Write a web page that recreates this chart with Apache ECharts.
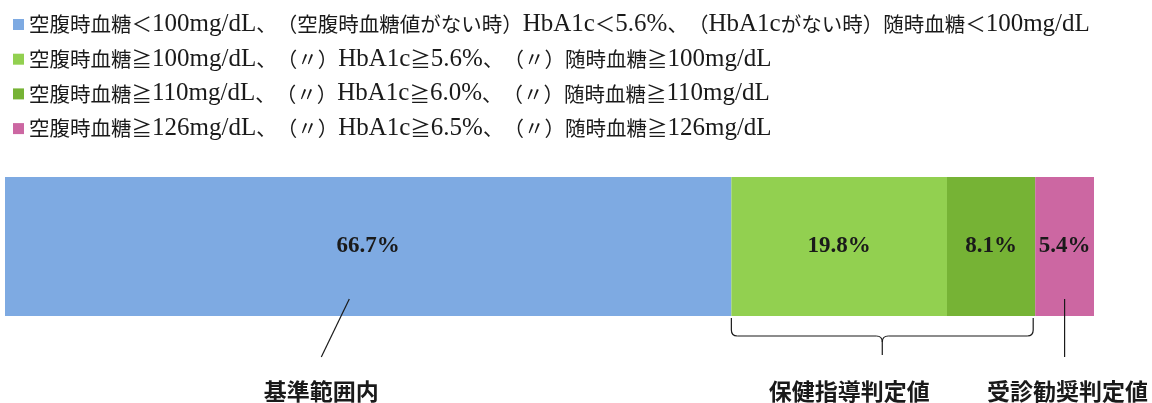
<!DOCTYPE html>
<html><head><meta charset="utf-8">
<script src="https://cdn.jsdelivr.net/npm/echarts@6/dist/echarts.min.js"></script>
<style>html,body{margin:0;padding:0;background:#fff;text-spacing-trim:space-all}#c{width:1152px;height:403px;text-spacing-trim:space-all}</style>
</head><body><div id="c"></div>
<script>
const categories = ['全体'];
const seriesNames = [
  '空腹時血糖＜100mg/dL、（空腹時血糖値がない時）HbA1c＜5.6%、（HbA1cがない時）随時血糖＜100mg/dL',
  '空腹時血糖≧100mg/dL、（〃）HbA1c≧5.6%、（〃）随時血糖≧100mg/dL',
  '空腹時血糖≧110mg/dL、（〃）HbA1c≧6.0%、（〃）随時血糖≧110mg/dL',
  '空腹時血糖≧126mg/dL、（〃）HbA1c≧6.5%、（〃）随時血糖≧126mg/dL'
];
const values = [66.7, 19.8, 8.1, 5.4];
const colors = ['#7EAAE2', '#92D050', '#76B335', '#CC67A2'];
const groupLabels = ['基準範囲内', '保健指導判定値', '受診勧奨判定値'];

const SERIF = '"Liberation Serif", serif';
const CJK = '"Noto Sans CJK JP", sans-serif';
const PUNCT = '、（）＜〃';

// split a label into CJK / latin runs; punctuation gets its own run so it keeps full width
function toRich(s) {
  const runs = [];
  for (const ch of s) {
    const type = ch.charCodeAt(0) >= 0x2000 ? 'c' : 'l';
    const last = runs[runs.length - 1];
    if (last && last.t === type && !PUNCT.includes(ch) && !PUNCT.includes(last.s.slice(-1))) last.s += ch;
    else runs.push({ t: type, s: ch });
  }
  return runs.map(r => '{' + r.t + '|' + r.s + '}').join('');
}

const chart = echarts.init(document.getElementById('c'));
chart.setOption({
  animation: false,
  legend: {
    orient: 'vertical', left: 8, top: 7,
    itemWidth: 11, itemHeight: 11, itemGap: 9.7,
    icon: 'rect',
    formatter: toRich,
    textStyle: {
      color: '#1a1a1a', padding: [0, 0, 0, 0],
      rich: {
        c: { fontFamily: CJK, fontSize: 20.5, color: '#1a1a1a', lineHeight: 23 },
        l: { fontFamily: SERIF, fontSize: 25, color: '#1a1a1a', lineHeight: 23 }
      }
    },
    data: seriesNames
  },
  grid: { left: 5, right: 58, top: 177, bottom: 87 },
  xAxis: { type: 'value', min: 0, max: 100, show: false },
  yAxis: { type: 'category', data: categories, show: false },
  series: seriesNames.map((n, i) => ({
    name: n, type: 'bar', stack: 'total', barWidth: '100%',
    data: [values[i]],
    itemStyle: { color: colors[i] },
    label: {
      show: true, position: 'inside', formatter: p => p.value.toFixed(1) + '%',
      fontSize: 23, fontWeight: 'bold', color: '#1a1a1a', fontFamily: SERIF
    }
  }))
});

// annotations positioned from the data scale
const px = v => chart.convertToPixel({ gridIndex: 0 }, [v, 0])[0];
const x1 = px(values[0]), x2 = px(values[0] + values[1] + values[2]) - 2, x3 = px(100);
const blueAnchor = px(values[0] * 0.474);
const pinkAnchor = (x2 + x3) / 2 + 1;
const bc = (x1 + x2) / 2;
const yTop = 318, yH = 336, yTip = 355, r = 6;
const S = { stroke: '#1a1a1a', lineWidth: 1.2, fill: null };
const ln = (a, b, c, d) => ({ type: 'line', z: 100, shape: { x1: a, y1: b, x2: c, y2: d }, style: S });
const qc = (a, b, cx, cy, c, d) => ({ type: 'bezierCurve', z: 100, shape: { x1: a, y1: b, cpx1: cx, cpy1: cy, x2: c, y2: d }, style: S });
const txt = (x, s) => ({
  type: 'text', z: 100, x: x, y: 391,
  style: { text: s, fill: '#1a1a1a', font: 'bold 23px ' + CJK, textAlign: 'center', textVerticalAlign: 'middle' }
});
chart.setOption({
  graphic: [
    ln(blueAnchor, 299, blueAnchor - 28, 357),
    ln(x1, yTop, x1, yH - r), qc(x1, yH - r, x1, yH, x1 + r, yH), ln(x1 + r, yH, bc - r, yH),
    qc(bc - r, yH, bc, yH, bc, yH + r), ln(bc, yH + r, bc, yTip),
    qc(bc + r, yH, bc, yH, bc, yH + r), ln(bc + r, yH, x2 - r, yH),
    qc(x2 - r, yH, x2, yH, x2, yH - r), ln(x2, yH - r, x2, yTop),
    ln(pinkAnchor, 299, pinkAnchor, 357),
    txt(blueAnchor - 28, groupLabels[0]),
    txt(bc - 33, groupLabels[1]),
    txt(pinkAnchor + 3, groupLabels[2])
  ]
});
</script></body></html>
